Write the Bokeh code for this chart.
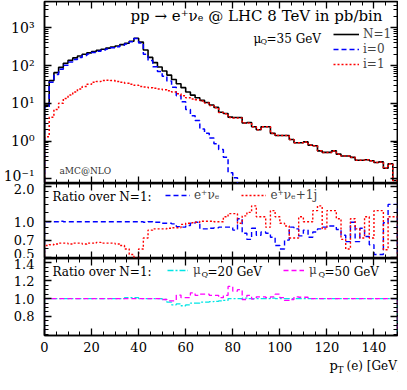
import numpy as np
from bokeh.plotting import figure
from bokeh.models import (Range1d, FixedTicker, LinearAxis, LogAxis, Label,
                          Legend, LegendItem, PrintfTickFormatter,
                          CustomJSTickFormatter)
from bokeh.layouts import column
from bokeh.embed import file_html
from bokeh.resources import INLINE

# ---------------- data (2 GeV bins from 0 to 150 GeV) ----------------
bin_edges = list(range(0, 151, 2))

# top panel, pb/bin
n1_total = [9, 40, 65, 90, 115, 138, 160, 180, 200, 218,
            236, 255, 272, 290, 310, 330, 360, 390, 440, 530,
            420, 260, 165, 120, 92, 72, 56, 43, 33, 26,
            20, 16.5, 14, 12, 10.5, 9.0, 7.8, 5.8, 5.4, 4.3,
            4.2, 4.2, 3.0, 3.1, 2.4, 2.0, 2.4, 2.4, 1.6, 1.4,
            1.4, 1.4, 1.1, 0.9, 0.9, 0.95, 0.78, 0.75, 0.55, 0.5,
            0.5, 0.55, 0.45, 0.4, 0.4, 0.37, 0.31, 0.31, 0.32, 0.30,
            0.27, 0.28, 0.19, 0.25, 0.09]
i0_part = [8, 36, 58, 80, 102, 124, 145, 165, 185, 203,
           222, 240, 258, 277, 297, 318, 345, 375, 430, 520,
           400, 200, 137, 93, 70, 52, 39, 26.5, 16, 11,
           6.9, 4.7, 3.5, 2.1, 1.6, 1.2, 0.85, 0.6, 0.37, 0.145,
           0.107, 0.06]
i1_part = [1.3, 4.3, 6.9, 10, 13.5, 16.5, 20, 24, 28, 32,
           36, 38, 40, 41, 40, 38, 36, 34, 32, 30,
           28, 27, 26, 25, 24, 23, 21.5, 20, 18, 16,
           14, 13, 12.5, 11.5, 10.2, 8.8, 7.6, 5.7, 5.3, 4.2,
           4.1, 4.1, 3.0, 3.0, 2.4, 2.0, 2.4, 2.4, 1.6, 1.4,
           1.4, 1.4, 1.1, 0.9, 0.9, 0.95, 0.78, 0.75, 0.55, 0.5,
           0.5, 0.55, 0.45, 0.4, 0.4, 0.37, 0.31, 0.31, 0.32, 0.30,
           0.27, 0.28, 0.19, 0.25, 0.09]

# middle panel: ratio over N=1
ratio_born = [1.00, 1.00, 1.00, 1.01, 1.00, 1.00, 1.00, 1.00, 1.00, 1.00,
              1.00, 1.00, 1.00, 1.00, 1.00, 1.00, 1.00, 1.00, 1.00, 1.00,
              1.00, 0.99, 1.00, 0.99, 0.99, 0.97, 0.97, 0.96, 0.91, 0.90,
              0.93, 0.97, 0.99, 0.87, 0.87, 0.88, 0.89, 0.90, 0.90, 0.90,
              0.85, 1.06, 0.80, 0.71, 0.88, 0.77, 0.82, 0.80, 0.74, 0.63,
              0.59, 0.70, 0.90, 0.87, 0.76, 0.85, 0.74, 0.82, 0.87, 0.90,
              0.92, 0.92, 0.86, 0.77, 0.68, 0.99, 0.68, 0.88, 0.75, 0.64,
              0.53, 0.53, 0.98, 1.40, 1.40]
ratio_1j = [0.63, 0.64, 0.65, 0.66, 0.66, 0.65, 0.66, 0.66, 0.65, 0.66,
            0.66, 0.67, 0.66, 0.66, 0.66, 0.65, 0.63, 0.59, 0.53, 0.49,
            0.59, 0.73, 0.85, 0.87, 0.87, 0.87, 0.88, 0.89, 0.89, 0.95,
            0.97, 0.98, 0.99, 1.01, 1.01, 1.01, 1.00, 1.00, 1.10, 1.17,
            1.17, 0.97, 1.12, 1.20, 1.36, 1.10, 1.10, 0.90, 1.24, 1.10,
            0.97, 0.92, 0.73, 0.73, 1.10, 1.00, 1.00, 1.24, 1.36, 0.87,
            1.24, 1.24, 1.06, 0.71, 0.59, 1.06, 0.87, 0.73, 1.10, 0.73,
            1.24, 1.24, 0.58, 1.10, 1.10]

# bottom panel: scale variations over N=1
ratio_mu20 = [1.00, 1.00, 1.00, 1.00, 1.00, 1.00, 1.00, 1.00, 1.00, 1.00,
              1.00, 1.00, 1.00, 1.00, 1.00, 1.00, 1.00, 1.01, 1.01, 1.01,
              1.00, 1.00, 1.00, 1.00, 1.00, 0.99, 0.96, 0.93, 0.94, 0.92,
              0.93, 0.95, 0.95, 0.96, 0.96, 0.965, 0.97, 0.975, 0.98, 1.00,
              1.00, 1.00, 1.005, 1.00, 1.00, 1.00, 1.00, 1.00, 1.005, 1.00,
              1.00, 1.00, 1.00, 1.00, 1.00, 1.00, 1.00, 1.00, 1.00, 1.00,
              1.00, 1.00, 1.00, 1.00, 1.00, 1.00, 1.00, 1.00, 1.00, 1.00,
              1.00, 1.00, 1.00, 1.00, 1.00]
ratio_mu50 = [1.00, 1.00, 1.00, 1.00, 1.00, 1.00, 1.00, 1.00, 1.00, 1.00,
              1.00, 1.00, 1.00, 1.00, 1.00, 1.00, 1.00, 1.00, 1.00, 1.00,
              1.00, 1.00, 1.00, 1.00, 1.00, 0.99, 0.975, 0.975, 1.04, 1.01,
              1.01, 1.065, 1.037, 1.05, 1.05, 1.037, 1.037, 1.01, 1.037, 1.137,
              1.083, 1.10, 0.99, 1.037, 0.995, 1.02, 1.02, 1.01, 1.02, 1.05,
              1.01, 0.98, 0.99, 1.02, 1.015, 1.015, 1.00, 1.00, 1.00, 1.00,
              1.00, 1.00, 1.00, 1.00, 1.00, 1.00, 1.00, 1.00, 1.00, 1.00,
              1.00, 1.00, 1.00, 1.00, 1.00]

x_ticks = [0, 20, 40, 60, 80, 100, 120, 140]
top_ticks = [0.1, 1, 10, 100, 1000]
top_tick_labels = {0.1: "10\u207b\u00b9", 1: "10\u2070", 10: "10\u00b9",
                   100: "10\u00b2", 1000: "10\u00b3"}
mid_ticks = [0.5, 0.7, 1.0, 2.0]
bot_ticks = [0.8, 1.0, 1.2, 1.4]

FONT = "DejaVu Serif"
X_MIN, X_MAX = 0, 150


def hist_steps(vals, base):
    xs, ys = [bin_edges[0]], [base]
    for i, v in enumerate(vals):
        xs += [bin_edges[i], bin_edges[i + 1]]
        ys += [v, v]
    xs.append(bin_edges[len(vals)])
    ys.append(base)
    return xs, ys


x_rng = Range1d(X_MIN, X_MAX)


def make_fig(height, y_type, y_rng, b_top, b_bottom):
    p = figure(width=398, height=height, x_range=x_rng, y_range=y_rng,
               y_axis_type=y_type, output_backend="svg", toolbar_location=None,
               min_border_left=36, min_border_right=1,
               min_border_top=b_top, min_border_bottom=b_bottom)
    p.grid.visible = False
    p.outline_line_color = "black"
    p.outline_line_width = 1.5
    p.background_fill_color = "white"
    p.border_fill_color = "white"
    return p


def style_axis(ax, show, fixed=None):
    ax.major_tick_in = 7
    ax.major_tick_out = 0
    ax.minor_tick_in = 4
    ax.minor_tick_out = 0
    ax.axis_line_width = 1.5
    ax.major_tick_line_width = 1.3
    ax.minor_tick_line_width = 1
    ax.axis_line_color = "black"
    ax.major_label_text_font = FONT
    ax.major_label_text_color = "black"
    if show:
        ax.major_label_text_font_size = "13px"
        ax.major_label_standoff = 6
    else:
        # tick-only frame edge: drawn on the frame edge, takes no border space
        ax.formatter = CustomJSTickFormatter(code="return ''")
        ax.major_label_text_font_size = "1px"
        ax.major_label_standoff = 0
        ax.fixed_location = fixed


def x_ticker():
    return FixedTicker(ticks=x_ticks, minor_ticks=list(range(0, 151, 5)))


def add_frame_axes(p, y_ticker_fn, log, show_bottom, y_lo, y_hi):
    style_axis(p.xaxis[0], show_bottom, y_lo)
    p.xaxis[0].ticker = x_ticker()
    style_axis(p.yaxis[0], True)
    p.yaxis[0].ticker = y_ticker_fn()
    p.yaxis[0].major_label_standoff = 10
    top = LinearAxis(ticker=x_ticker())
    style_axis(top, False, y_hi)
    p.add_layout(top, "above")
    right = LogAxis(ticker=y_ticker_fn()) if log else LinearAxis(ticker=y_ticker_fn())
    style_axis(right, False, X_MAX)
    p.add_layout(right, "right")


def text_label(p, x, y, txt, size="12px", align="left", color="black"):
    p.add_layout(Label(x=x, y=y, x_units="screen", y_units="screen", text=txt,
                       text_font=FONT, text_font_size=size, text_color=color,
                       text_align=align, text_baseline="middle"))


# ---------------- top panel ----------------
Y1 = (0.075, 5000)
p1 = make_fig(183, "log", Range1d(*Y1), 1, 0)
top_minor = [m * d for d in (0.1, 1, 10, 100, 1000) for m in range(2, 10) if m * d <= 5000]
add_frame_axes(p1, lambda: FixedTicker(ticks=top_ticks, minor_ticks=top_minor), True, False, *Y1)
p1.yaxis[0].major_label_overrides = top_tick_labels
p1.yaxis[0].major_label_text_font_size = "14px"

xs, ys = hist_steps(n1_total, 1e-3)
r_n1 = p1.line(xs, ys, line_color="black", line_width=1.6)
xs, ys = hist_steps(i0_part, 1e-3)
r_i0 = p1.line(xs, ys, line_color="#0000ff", line_width=1.5, line_dash="5 3")
xs, ys = hist_steps(i1_part, 1e-3)
r_i1 = p1.line(xs, ys, line_color="#ff0000", line_width=1.5, line_dash="2 2")

leg1 = Legend(items=[LegendItem(label="N=1", renderers=[r_n1]),
                     LegendItem(label="i=0", renderers=[r_i0]),
                     LegendItem(label="i=1", renderers=[r_i1])],
              location=(289, 112), orientation="vertical", glyph_width=26,
              glyph_height=12, label_height=12, label_standoff=4, spacing=1,
              padding=0, margin=0, border_line_color=None,
              background_fill_alpha=0, label_text_font=FONT,
              label_text_font_size="12px")
p1.add_layout(leg1)

text_label(p1, 212, 168, "pp \u2192 e\u207a\u03bd\u2091 @ LHC 8 TeV in pb/bin", "15px", "center")
text_label(p1, 209, 145, "\u03bc", "12px")
text_label(p1, 216, 142, "Q", "8px")
text_label(p1, 222, 145, "=35 GeV", "12px")
text_label(p1, 15, 13, "aMC@NLO", "9px", color="#333333")

# ---------------- middle panel ----------------
Y2 = (0.49, 2.1)
p2 = make_fig(75, "log", Range1d(*Y2), 0, 0)
add_frame_axes(p2, lambda: FixedTicker(ticks=mid_ticks,
                                       minor_ticks=[0.6, 0.8, 0.9, 1.2, 1.4, 1.6, 1.8]),
               True, False, *Y2)
p2.yaxis[0].formatter = PrintfTickFormatter(format="%.1f")
xs, ys = hist_steps(ratio_born, 0.1)
r_b = p2.line(xs, ys, line_color="#0000ff", line_width=1.4, line_dash="5 3")
xs, ys = hist_steps(ratio_1j, 0.1)
r_j = p2.line(xs, ys, line_color="#ff0000", line_width=1.4, line_dash="2 2")
leg2 = Legend(items=[LegendItem(label="e\u207a\u03bd\u2091", renderers=[r_b]),
                     LegendItem(label="e\u207a\u03bd\u2091+1j", renderers=[r_j])],
              location=(121, 56), orientation="horizontal", glyph_width=25,
              glyph_height=12, label_height=12, label_standoff=4, spacing=22,
              padding=0, margin=0, border_line_color=None,
              background_fill_alpha=0, label_text_font=FONT,
              label_text_font_size="12px")
p2.add_layout(leg2)
text_label(p2, 8, 62, "Ratio over N=1:", "12px")

# ---------------- bottom panel ----------------
Y3 = (0.586, 1.45)
p3 = make_fig(99, "linear", Range1d(*Y3), 0, 22)
add_frame_axes(p3, lambda: FixedTicker(ticks=bot_ticks,
                                       minor_ticks=[round(0.6 + 0.05 * k, 2) for k in range(18)]),
               False, True, *Y3)
p3.yaxis[0].formatter = PrintfTickFormatter(format="%.1f")
p3.xaxis[0].major_label_standoff = 5
xs, ys = hist_steps(ratio_mu20, 0)
r_20 = p3.line(xs, ys, line_color="#00e5e5", line_width=1.3, line_dash="6 2 2 2")
xs, ys = hist_steps(ratio_mu50, 0)
r_50 = p3.line(xs, ys, line_color="#ff00ff", line_width=1.3, line_dash="5 3")
leg3 = Legend(items=[LegendItem(label="\u03bc", renderers=[r_20]),
                     LegendItem(label="\u03bc", renderers=[r_50])],
              location=(123, 58), orientation="horizontal", glyph_width=21,
              glyph_height=12, label_height=12, label_width=8, label_standoff=5,
              spacing=82, padding=0, margin=0, border_line_color=None,
              background_fill_alpha=0, label_text_font=FONT,
              label_text_font_size="12px")
p3.add_layout(leg3)
text_label(p3, 8, 64, "Ratio over N=1:", "12px")
text_label(p3, 157, 61, "Q", "8px")
text_label(p3, 163, 64, "=20 GeV", "12px")
text_label(p3, 274, 61, "Q", "8px")
text_label(p3, 280, 64, "=50 GeV", "12px")

# ---------------- x-axis title strip: p_T(e) [GeV] ----------------
p4 = figure(width=398, height=17, x_range=Range1d(0, 1), y_range=Range1d(0, 1),
            output_backend="svg", toolbar_location=None, min_border_left=36,
            min_border_right=1, min_border_top=0, min_border_bottom=0)
p4.axis.visible = False
p4.grid.visible = False
p4.outline_line_color = None
text_label(p4, 285, 9, "p", "13px")
text_label(p4, 293, 5, "T", "9px")
text_label(p4, 357, 9, "(e) [GeV]", "12px", "right")

layout = column(p1, p2, p3, p4, spacing=0)
open("out.html", "w").write(file_html(layout, INLINE))
